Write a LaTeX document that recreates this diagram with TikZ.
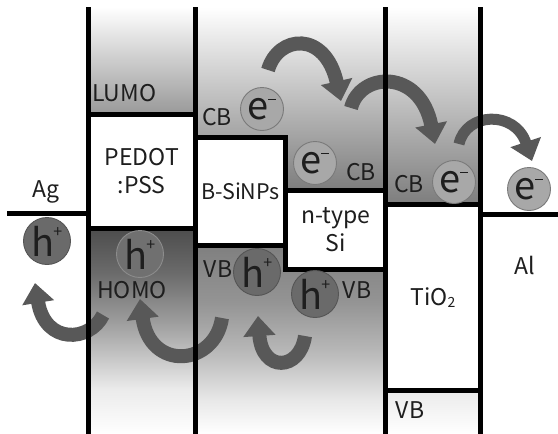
\documentclass[tikz,border=0pt]{standalone}
\usepackage{fontspec}
\setmainfont{Noto Sans CJK JP}
\usepackage{graphicx}
\usetikzlibrary{arrows.meta}
\definecolor{arrgray}{HTML}{585858}
\definecolor{egray}{HTML}{A8A8A8}
\definecolor{eborder}{HTML}{7A7A7A}
\definecolor{hgray}{HTML}{6A6A6A}
\definecolor{hborder}{HTML}{555555}
\definecolor{txt}{HTML}{1E1E1E}
\pgfdeclareverticalshading{pedotbot}{100bp}{color(0bp)=(white); color(25bp)=(white); color(36bp)=(white!92!black); color(45bp)=(white!75!black); color(52bp)=(white!62!black); color(64bp)=(white!42!black); color(75bp)=(white!30!black); color(100bp)=(white!30!black)}
\pgfdeclareverticalshading{midbot}{100bp}{color(0bp)=(white); color(25bp)=(white); color(34bp)=(white!91!black); color(47bp)=(white!72!black); color(60bp)=(white!58!black); color(75bp)=(white!50!black); color(100bp)=(white!50!black)}
\newcommand\labfont{\fontsize{23}{28}\selectfont}
\newcommand\bigfont{\fontsize{38}{38}\selectfont}
\newcommand\elec{e\hspace{-0.5pt}\raisebox{0.5em}{\rule{0.2em}{0.04em}}}
\newcommand\hole{h\hspace{-1.5pt}\raisebox{0.48em}{\fontsize{16}{16}\selectfont +}}
\begin{document}
\begin{tikzpicture}[x=1pt,y=-1pt,
  bl/.style={line width=5pt,black},
  box/.style={rectangle,draw=black,line width=5pt,fill=white,inner sep=0pt,align=center,font=\labfont,text=txt},
  lab/.style={font=\labfont,inner sep=0pt,text=txt},
  ecirc/.style={circle,minimum size=43pt,inner sep=0pt,fill=egray,draw=eborder,line width=0.9pt,font=\bigfont,text=txt},
  hcirc/.style={circle,minimum size=47pt,inner sep=0pt,fill=hgray,draw=hborder,line width=0.9pt,font=\bigfont,text=txt},
  arr/.style={draw=arrgray,line width=14pt,-{Triangle[length=20pt,width=31pt]}},
]
\useasboundingbox (0,0) rectangle (558,434);
\fill[white] (0,0) rectangle (558,434);

% background shadings
\shade[top color=white,bottom color=white!60!black] (88,7) rectangle (195.5,114);
\shade[shading=pedotbot] (88,228) rectangle (195.5,434);
\shade[top color=white,bottom color=white!49!black]
  (195.5,7) -- (385.5,7) -- (385.5,190.5) -- (285.5,190.5) -- (285.5,137.5) -- (195.5,137.5) -- cycle;
\shade[shading=midbot]
  (195.5,245.5) -- (285.5,245.5) -- (285.5,269) -- (385.5,269) -- (385.5,434) -- (195.5,434) -- cycle;
\shade[top color=white,bottom color=white!49!black] (385.5,7) rectangle (480.5,204.5);
\shade[top color=white!92!black,bottom color=white] (385.5,390.5) rectangle (480.5,434);

% boxes
\node[box,minimum width=107.5pt,minimum height=114pt] (pedot) at (141.75,171) {PEDOT\\:PSS};
\node[box,minimum width=90pt,minimum height=108pt,font=\fontsize{21.5}{26}\selectfont] (bsi) at (240.5,191.5) {\raisebox{-3pt}{B-SiNPs}};
\node[box,minimum width=100pt,minimum height=78.5pt] (nsi) at (335.5,229.75) {n-type\\Si};
\node[box,minimum width=95pt,minimum height=186pt] (tio) at (433,297.5) {TiO\raisebox{-0.12em}{\fontsize{14}{14}\selectfont 2}};

% arrows (electrons)
\coordinate (a1s) at (268,70);  \coordinate (a1e) at (341,101);
\coordinate (a2s) at (351,108); \coordinate (a2e) at (435,144);
\coordinate (a3s) at (459,144); \coordinate (a3e) at (532,161);
\draw[arr] (a1s) .. controls (278,35) and (325,30) .. (a1e);
\draw[arr] (a2s) .. controls (360,72) and (420,68) .. (a2e);
\draw[arr,line width=11pt] (a3s) .. controls (466,112) and (515,110) .. (a3e);
% arrows (holes)
\coordinate (b1s) at (103,315); \coordinate (b1e) at (35,283);
\coordinate (b2s) at (222,318); \coordinate (b2e) at (140,299);
\coordinate (b3s) at (305,336); \coordinate (b3e) at (258,316);
\draw[arr] (b1s) .. controls (90,342) and (45,345) .. (b1e);
\draw[arr] (b2s) .. controls (215,366) and (150,372) .. (b2e);
\draw[arr] (b3s) .. controls (300,371) and (262,373) .. (b3e);

% black band lines
\draw[bl] (88,7) -- (88,434);
\draw[bl] (195.5,7) -- (195.5,434);
\draw[bl] (385.5,7) -- (385.5,434);
\draw[bl] (480.5,7) -- (480.5,434);
\draw[bl] (7,213.5) -- (88,213.5);
\draw[bl] (480.5,214.5) -- (558,214.5);

% carriers
\node[ecirc] (e1) at (262,109) {\elec};
\node[ecirc] (e2) at (315,163) {\elec};
\node[ecirc] (e3) at (454,182) {\elec};
\node[ecirc] (e4) at (529,189) {\elec};
\node[hcirc] (h1) at (47,241) {\hole};
\node[hcirc,fill=white!44!black,draw=white!55!black] (h2) at (140,254) {\hole};
\node[hcirc] (h3) at (257,272) {\hole};
\node[hcirc] (h4) at (315,294) {\hole};

% labels
\node[lab,anchor=west] (lumo) at (92,93.5) {LUMO};
\node[lab] (cb1) at (217,117.5) {CB};
\node[lab] (cb2) at (361,172) {CB};
\node[lab] (cb3) at (409,184) {CB};
\node[lab] (vb1) at (218,269) {VB};
\node[lab] (vb2) at (357,290) {VB};
\node[lab] (vb3) at (410,410) {VB};
\node[lab] (homo) at (132,290) {HOMO};
\node[lab,anchor=base] (ag) at (46,197) {Ag};
\node[lab] (al) at (525,265) {Al};
\end{tikzpicture}
\end{document}
